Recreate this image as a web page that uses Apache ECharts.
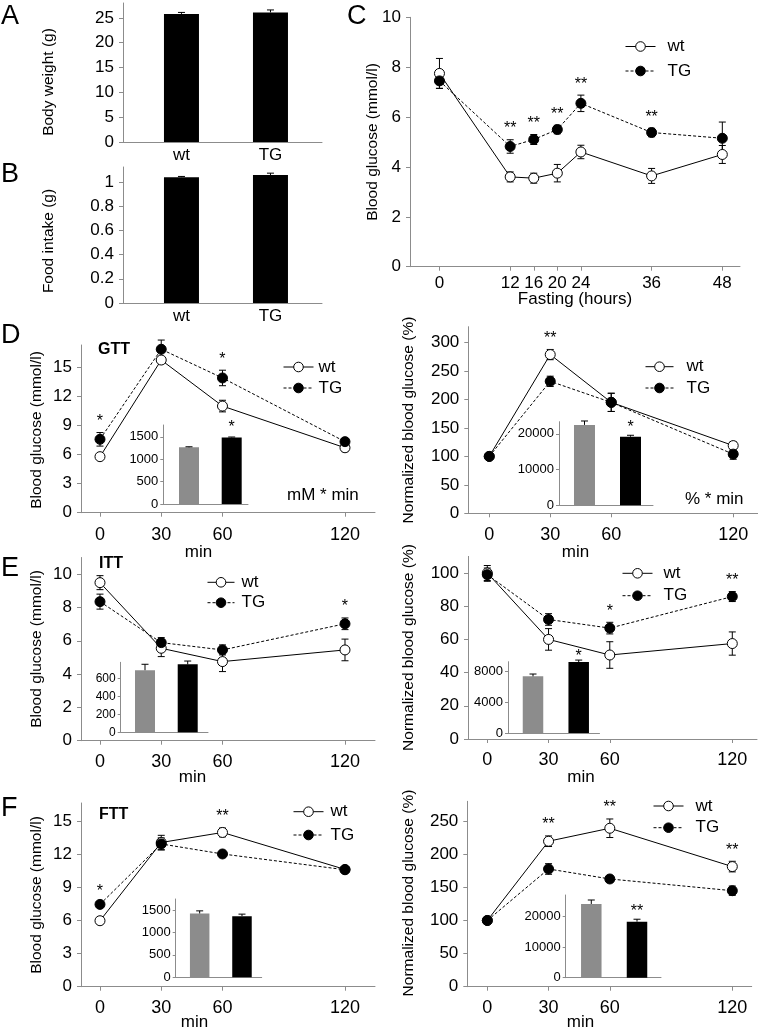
<!DOCTYPE html>
<html><head><meta charset="utf-8">
<script src="https://cdn.jsdelivr.net/npm/echarts@6/dist/echarts.min.js"></script>
<style>html,body{margin:0;padding:0;background:#fff}#c{width:762px;height:1030px}</style>
</head><body><div id="c"></div>
<script>
const FONT = '"Liberation Sans", Arial, Helvetica, sans-serif';

// ---------------- data ----------------
const groups = ['wt', 'TG'];
const bodyWeight = [25.8, 26.1];
const bodyWeightErr = [0.3, 0.5];
const foodIntake = [1.04, 1.058];
const foodIntakeErr = [0.006, 0.015];
const bodyWeightTicks = [0, 5, 10, 15, 20, 25];
const foodIntakeTicks = [0, 0.2, 0.4, 0.6, 0.8, 1];

const fastHours = [0, 12, 16, 20, 24, 36, 48];
const fastWt = [7.75, 3.6, 3.55, 3.75, 4.6, 3.64, 4.5];
const fastWtErr = [0.6, 0.2, 0.2, 0.35, 0.27, 0.3, 0.36];
const fastTg = [7.45, 4.82, 5.1, 5.5, 6.55, 5.38, 5.15];
const fastTgErr = [0.3, 0.27, 0.2, 0.17, 0.33, 0.17, 0.65];
const fastSig = ['', '**', '**', '**', '**', '**', ''];
const fastTicksY = [0, 2, 4, 6, 8, 10];

const testMin = [0, 30, 60, 120];

const gttWt = [5.78, 15.75, 11.0, 6.7];
const gttWtErr = [0.2, 0.3, 0.6, 0.4];
const gttTg = [7.57, 16.86, 13.9, 7.33];
const gttTgErr = [0.7, 0.95, 0.8, 0.3];
const gttSig = ['*', '', '*', ''];
const gttTicks = [0, 3, 6, 9, 12, 15];
const gttAuc = [1265, 1485];
const gttAucErr = [12, 10];
const gttAucSig = ['', '*'];
const gttAucTicks = [0, 500, 1000, 1500];

const gttNWt = [100, 279, 195, 119];
const gttNWtErr = [5, 9, 16, 7];
const gttNTg = [100, 232, 195, 104];
const gttNTgErr = [5, 9, 16, 9];
const gttNSig = ['', '**', '', ''];
const gttNTicks = [0, 50, 100, 150, 200, 250, 300];
const gttNAuc = [22500, 19200];
const gttNAucErr = [1100, 400];
const gttNAucSig = ['', '*'];
const gttNAucTicks = [0, 10000, 20000];

const ittWt = [9.49, 5.55, 4.75, 5.45];
const ittWtErr = [0.42, 0.5, 0.6, 0.65];
const ittTg = [8.35, 5.89, 5.45, 7.02];
const ittTgErr = [0.45, 0.3, 0.3, 0.35];
const ittSig = ['', '', '', '*'];
const ittTicks = [0, 2, 4, 6, 8, 10];
const ittAuc = [690, 755];
const ittAucErr = [66, 37];
const ittAucSig = ['', ''];
const ittAucTicks = [0, 200, 400, 600];

const ittNWt = [100, 60, 50.6, 57.5];
const ittNWtErr = [4.5, 6.5, 8, 7];
const ittNTg = [99, 72, 66.8, 85.8];
const ittNTgErr = [4, 3.5, 3.5, 3];
const ittNSig = ['', '', '*', '**'];
const ittNTicks = [0, 20, 40, 60, 80, 100];
const ittNAuc = [7310, 9160];
const ittNAucErr = [300, 250];
const ittNAucSig = ['', '*'];
const ittNAucTicks = [0, 4000, 8000];

const fttWt = [5.98, 13.07, 13.98, 10.63];
const fttWtErr = [0.3, 0.65, 0.4, 0.2];
const fttTg = [7.46, 12.94, 12.03, 10.6];
const fttTgErr = [0.2, 0.55, 0.2, 0.2];
const fttSig = ['*', '', '**', ''];
const fttTicks = [0, 3, 6, 9, 12, 15];
const fttAuc = [1425, 1365];
const fttAucErr = [58, 45];
const fttAucSig = ['', ''];
const fttAucTicks = [0, 500, 1000, 1500];

const fttNWt = [100, 219.7, 239.3, 181.4];
const fttNWtErr = [5, 8, 14, 8];
const fttNTg = [100, 177.8, 162.7, 145];
const fttNTgErr = [5, 8, 5, 7];
const fttNSig = ['', '**', '**', '**'];
const fttNTicks = [0, 50, 100, 150, 200, 250];
const fttNAuc = [24160, 18360];
const fttNAucErr = [1300, 800];
const fttNAucSig = ['', '**'];
const fttNAucTicks = [0, 10000, 20000];

// ---------------- builders ----------------
const AX = '#8c8c8c';
const GRAY = '#8c8c8c';
const grid = [], xAxis = [], yAxis = [], series = [], legend = [], elements = [];

function panel(box, xr, yr, o) {
  grid.push({left: box[0], top: box[1], width: box[2], height: box[3], containLabel: false, outerBoundsMode: 'none'});
  const gi = grid.length - 1;
  xAxis.push({
    type: 'value', gridIndex: gi, min: xr[0], max: xr[1], splitLine: {show: false},
    axisLine: {show: true, onZero: false, lineStyle: {color: AX, width: 1}},
    axisTick: {show: !!o.xTick, inside: false, length: 4, lineStyle: {color: AX}, customValues: o.xTicks || []},
    axisLabel: {show: !!o.xTicks, customValues: o.xTicks || [], formatter: o.xFmt, fontSize: o.xFs || 15,
      margin: o.xMargin || 8, color: '#000', fontFamily: FONT}
  });
  yAxis.push({
    type: 'value', gridIndex: gi, min: yr[0], max: yr[1], splitLine: {show: false},
    axisLine: {show: true, onZero: false, lineStyle: {color: AX, width: 1}},
    axisTick: {show: true, inside: false, length: o.yTickLen || 4, lineStyle: {color: AX}, customValues: o.yTicks},
    axisLabel: {show: true, customValues: o.yTicks, fontSize: o.yFs || 17, margin: o.yMargin || 9,
      color: '#000', fontFamily: FONT, formatter: v => String(v)}
  });
  return gi;
}

function errBars(gi, xs, ys, es, upOnly, z, cap) {
  const cw = cap || 3.5;
  return {
    type: 'custom', xAxisIndex: gi, yAxisIndex: gi, z: z, silent: true, clip: false,
    data: xs.map((x, i) => [x, ys[i], es[i]]),
    renderItem(params, api) {
      const x = api.value(0), y = api.value(1), e = api.value(2);
      const t = api.coord([x, y + e]);
      const b = api.coord([x, upOnly ? y : y - e]);
      const st = {stroke: '#000', lineWidth: 1};
      const ch = [
        {type: 'line', shape: {x1: t[0], y1: t[1], x2: b[0], y2: b[1]}, style: st},
        {type: 'line', shape: {x1: t[0] - cw, y1: t[1], x2: t[0] + cw, y2: t[1]}, style: st}
      ];
      if (!upOnly) ch.push({type: 'line', shape: {x1: b[0] - cw, y1: b[1], x2: b[0] + cw, y2: b[1]}, style: st});
      return {type: 'group', children: ch};
    }
  };
}

function stars(gi, xs, tops, sig, fs, gap) {
  const data = [];
  xs.forEach((x, i) => { if (sig[i]) data.push([x, tops[i], i]); });
  return {
    type: 'custom', xAxisIndex: gi, yAxisIndex: gi, z: 8, silent: true, clip: false, data,
    renderItem(params, api) {
      const p = api.coord([api.value(0), api.value(1)]);
      return {type: 'text', x: p[0], y: p[1] - gap,
        style: {text: sig[api.value(2)], fill: '#000', font: fs + 'px ' + FONT, align: 'center', verticalAlign: 'bottom'}};
    }
  };
}

function linePanel(gi, xs, wt, wtE, tg, tgE, sig) {
  series.push(errBars(gi, xs, wt, wtE, false, 2));
  series.push(errBars(gi, xs, tg, tgE, false, 2));
  series.push({type: 'line', name: 'wt', xAxisIndex: gi, yAxisIndex: gi, data: xs.map((x, i) => [x, wt[i]]),
    symbol: 'circle', symbolSize: 10, showSymbol: true, silent: true, z: 3,
    lineStyle: {color: '#000', width: 1, type: 'solid'},
    itemStyle: {color: '#fff', borderColor: '#000', borderWidth: 1}});
  series.push({type: 'line', name: 'TG', xAxisIndex: gi, yAxisIndex: gi, data: xs.map((x, i) => [x, tg[i]]),
    symbol: 'circle', symbolSize: 10, showSymbol: true, silent: true, z: 4,
    lineStyle: {color: '#000', width: 1, type: [3, 2]},
    itemStyle: {color: '#000', borderColor: '#000', borderWidth: 1}});
  const tops = xs.map((x, i) => Math.max(wt[i] + wtE[i], tg[i] + tgE[i]));
  series.push(stars(gi, xs, tops, sig, 16, 3));
}

function barPanel(gi, vals, errs, sig, colors, bw, fs, gap) {
  series.push({type: 'bar', name: 'bars' + gi, xAxisIndex: gi, yAxisIndex: gi, barWidth: bw, silent: true, z: 5,
    data: vals.map((v, i) => ({value: [i + 1, v], itemStyle: {color: colors[i]}}))});
  series.push(errBars(gi, [1, 2], vals, errs, true, 6, 3.5));
  series.push(stars(gi, [1, 2], vals.map((v, i) => v + errs[i]), sig, fs, gap));
}

function addLegend(left, top, iw, gap, pad) {
  legend.push({data: ['wt', 'TG'], orient: 'vertical', left, top, padding: 0, itemWidth: iw, itemHeight: 12,
    itemGap: gap, selectedMode: false,
    lineStyle: {width: 1},
    itemStyle: {borderWidth: 1},
    textStyle: {fontSize: 17, fontFamily: FONT, color: '#000', padding: [0, 0, 0, pad]}});
}

function txt(t, x, y, fs, o) {
  o = o || {};
  elements.push({type: 'text', x, y, rotation: o.rot || 0, silent: true,
    style: {text: t, fill: '#000', font: (o.bold ? 'bold ' : '') + fs + 'px ' + FONT,
      align: o.align || 'left', verticalAlign: 'middle'}});
}

// ---------------- A ----------------
let g = panel([123, 3, 199, 139], [0.343, 2.579], [0, 28],
  {xTicks: [1, 2], xFmt: v => groups[Math.round(v) - 1], xFs: 17, xMargin: 5, yTicks: bodyWeightTicks});
barPanel(g, bodyWeight, bodyWeightErr, ['', ''], ['#000', '#000'], 35, 15, 3);
// ---------------- B ----------------
g = panel([123, 167, 199, 136], [0.343, 2.579], [0, 1.124],
  {xTicks: [1, 2], xFmt: v => groups[Math.round(v) - 1], xFs: 17, xMargin: 5, yTicks: foodIntakeTicks});
barPanel(g, foodIntake, foodIntakeErr, ['', ''], ['#000', '#000'], 35, 15, 3);
// ---------------- C ----------------
g = panel([410, 17.3, 330, 249.4], [-5, 51], [0, 10],
  {xTicks: fastHours, xTick: true, xFs: 17, xMargin: 8, yTicks: fastTicksY});
linePanel(g, fastHours, fastWt, fastWtErr, fastTg, fastTgErr, fastSig);
addLegend(625, 38, 30, 7.5, 7);

// ---------------- D left ----------------
g = panel([81, 345, 294, 167.7], [-9.3, 134.7], [0, 17.3],
  {xTicks: testMin, xTick: true, xFs: 18, xMargin: 13, yTicks: gttTicks});
linePanel(g, testMin, gttWt, gttWtErr, gttTg, gttTgErr, gttSig);
addLegend(283, 358.5, 30, 4, 0);
g = panel([163.3, 425, 84.7, 79], [0.398, 2.382], [0, 1763],
  {yTicks: gttAucTicks, yFs: 13, yMargin: 5, yTickLen: 3});
barPanel(g, gttAuc, gttAucErr, gttAucSig, [GRAY, '#000'], 20, 16, 1);

// ---------------- D right ----------------
g = panel([468.3, 326.7, 289.3, 186.6], [-10.3, 132], [0, 328],
  {xTicks: testMin, xTick: true, xFs: 18, xMargin: 13, yTicks: gttNTicks});
linePanel(g, testMin, gttNWt, gttNWtErr, gttNTg, gttNTgErr, gttNSig);
addLegend(645, 358.2, 28, 4.3, 8);
g = panel([559, 421.7, 94, 83.6], [0.446, 2.489], [0, 23400],
  {yTicks: gttNAucTicks, yFs: 13, yMargin: 5, yTickLen: 3});
barPanel(g, gttNAuc, gttNAucErr, gttNAucSig, [GRAY, '#000'], 21, 16, 0);

// ---------------- E left ----------------
g = panel([81, 557.5, 294, 183.2], [-9.3, 134.7], [0, 11],
  {xTicks: testMin, xTick: true, xFs: 18, xMargin: 12, yTicks: ittTicks});
linePanel(g, testMin, ittWt, ittWtErr, ittTg, ittTgErr, ittSig);
addLegend(207, 573.8, 27, 3.4, 2);
g = panel([120.7, 662.3, 87.3, 70], [0.431, 2.475], [0, 778],
  {yTicks: ittAucTicks, yFs: 12, yMargin: 5, yTickLen: 3});
barPanel(g, ittAuc, ittAucErr, ittAucSig, [GRAY, '#000'], 20, 16, 0);

// ---------------- E right ----------------
g = panel([468, 556.4, 289, 182.6], [-9.45, 132.1], [0, 110],
  {xTicks: testMin, xTick: true, xFs: 18, xMargin: 12, yTicks: ittNTicks});
linePanel(g, testMin, ittNWt, ittNWtErr, ittNTg, ittNTgErr, ittNSig);
addLegend(622, 564.8, 30, 5.4, 6);
g = panel([508, 661.7, 91.5, 71.3], [0.453, 2.455], [0, 9200],
  {yTicks: ittNAucTicks, yFs: 13, yMargin: 5, yTickLen: 3});
barPanel(g, ittNAuc, ittNAucErr, ittNAucSig, [GRAY, '#000'], 20.5, 16, -5);

// ---------------- F left ----------------
g = panel([81, 803, 294, 183.7], [-9.3, 134.7], [0, 16.65],
  {xTicks: testMin, xTick: true, xFs: 18, xMargin: 12, yTicks: fttTicks});
linePanel(g, testMin, fttWt, fttWtErr, fttTg, fttTgErr, fttSig);
addLegend(293, 803.2, 30, 6.3, 2);
g = panel([175.7, 899, 86, 78.3], [0.433, 2.466], [0, 1748],
  {yTicks: fttAucTicks, yFs: 13, yMargin: 5, yTickLen: 3});
barPanel(g, fttAuc, fttAucErr, fttAucSig, [GRAY, '#000'], 19.5, 16, 0);

// ---------------- F right ----------------
g = panel([467.3, 801.3, 284.4, 185.4], [-9.8, 129.5], [0, 280],
  {xTicks: testMin, xTick: true, xFs: 18, xMargin: 12, yTicks: fttNTicks});
linePanel(g, testMin, fttNWt, fttNWtErr, fttNTg, fttNTgErr, fttNSig);
addLegend(653, 797.5, 30, 4.7, 7);
g = panel([565.7, 895, 95.3, 82.7], [0.44, 2.525], [0, 27100],
  {yTicks: fttNAucTicks, yFs: 13, yMargin: 5, yTickLen: 3});
barPanel(g, fttNAuc, fttNAucErr, fttNAucSig, [GRAY, '#000'], 20.5, 16, 0);

// ---------------- texts ----------------
const R = Math.PI / 2;
txt('A', 1, 17, 27); txt('B', 1, 175, 27); txt('C', 347, 17, 27);
txt('D', 1, 336, 27); txt('E', 1, 569, 27); txt('F', 1, 809, 27);
txt('Body weight (g)', 48.5, 82, 15.5, {rot: R, align: 'center'});
txt('Food intake (g)', 48.5, 241, 15.5, {rot: R, align: 'center'});
txt('Blood glucose (mmol/l)', 372.5, 142, 15.5, {rot: R, align: 'center'});
txt('Blood glucose (mmol/l)', 36.5, 430, 15.5, {rot: R, align: 'center'});
txt('Normalized blood glucose (%)', 408.5, 420, 15.5, {rot: R, align: 'center'});
txt('Blood glucose (mmol/l)', 36.5, 649, 15.5, {rot: R, align: 'center'});
txt('Normalized blood glucose (%)', 408.5, 647.5, 15.5, {rot: R, align: 'center'});
txt('Blood glucose (mmol/l)', 36.5, 895, 15.5, {rot: R, align: 'center'});
txt('Normalized blood glucose (%)', 408.5, 893, 15.5, {rot: R, align: 'center'});
txt('Fasting (hours)', 575, 299, 17, {align: 'center'});
txt('min', 198.5, 552, 17, {align: 'center'});
txt('min', 575.5, 552, 17, {align: 'center'});
txt('min', 192.5, 777, 17, {align: 'center'});
txt('min', 581, 777, 17, {align: 'center'});
txt('min', 194.5, 1022, 17, {align: 'center'});
txt('min', 580.5, 1022, 17, {align: 'center'});
txt('GTT', 98, 350, 16, {bold: true});
txt('ITT', 99, 563.5, 16, {bold: true});
txt('FTT', 99, 814.5, 16, {bold: true});
txt('mM * min', 287, 495, 17);
txt('% * min', 685, 499, 17);

const chart = echarts.init(document.getElementById('c'), null, {renderer: 'canvas'});
chart.setOption({
  animation: false, backgroundColor: '#fff',
  grid, xAxis, yAxis, series, legend,
  graphic: {elements}
});
</script></body></html>
